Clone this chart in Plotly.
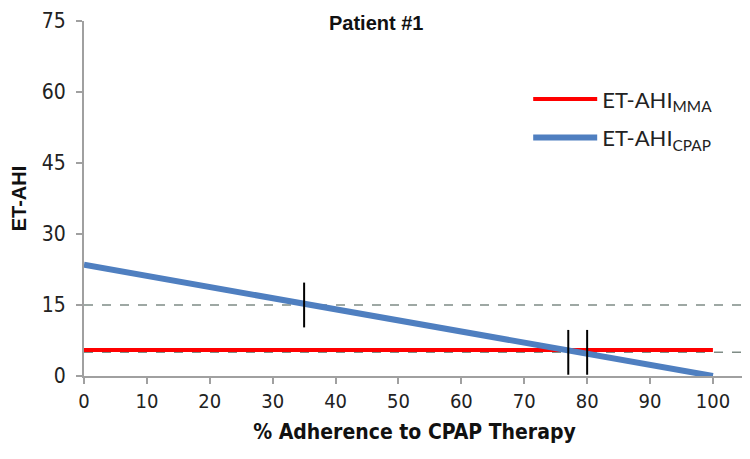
import plotly.graph_objects as go

# adherence (%) and the two ET-AHI lines
adherence = [0, 100]
et_ahi_cpap = [23.5, 0]
et_ahi_mma = [5.5, 5.5]

# reference thresholds (dashed) and the crossing markers
thresholds = [15, 5]
cross_x = [35, 77, 80]
cross_y = [15, 5, 5]

x_ticks = list(range(0, 101, 10))
y_ticks = [0, 15, 30, 45, 60, 75]
x_max = 105.1

narrow = "DejaVu Sans Condensed, Liberation Sans Narrow, Liberation Sans"

fig = go.Figure()

for t in thresholds:
    fig.add_trace(go.Scatter(x=[0, x_max], y=[t, t], mode="lines", showlegend=False,
                             line=dict(color="#7f8c86", width=1.5, dash="dash"),
                             hoverinfo="skip"))

fig.add_trace(go.Scatter(x=adherence, y=et_ahi_mma, mode="lines",
                         name="ET-AHI<sub>MMA</sub>", legendgroup="a",
                         line=dict(color="#ff0000", width=4)))
fig.add_trace(go.Scatter(x=adherence, y=et_ahi_cpap, mode="lines",
                         name="ET-AHI<sub>CPAP</sub>", legendgroup="b",
                         line=dict(color="#4f7fc0", width=6)))

fig.add_trace(go.Scatter(x=cross_x, y=cross_y, mode="markers", showlegend=False,
                         marker=dict(symbol="line-ns", size=32,
                                     line=dict(color="black", width=2))))

# page body adds an 8px offset, so margins are trimmed accordingly
fig.update_layout(
    width=750, height=459,
    margin=dict(l=76, r=13, t=13, b=91),
    plot_bgcolor="white", paper_bgcolor="white",
    legend=dict(x=0.672, y=0.839, xanchor="left", yanchor="top",
                font=dict(family="Lato, Open Sans", size=22, color="#222"),
                tracegroupgap=7, itemwidth=64, bgcolor="rgba(0,0,0,0)"),
    annotations=[dict(text="<b>Patient #1</b>", x=0.442, y=0.994, xref="paper", yref="paper",
                      xanchor="center", yanchor="middle", showarrow=False,
                      font=dict(family="Liberation Sans, Arial", size=20, color="#111"))],
)

fig.update_xaxes(range=[0, x_max], tickvals=x_ticks, showgrid=False, zeroline=False,
                 showline=True, linecolor="#a0a0a0", linewidth=2,
                 ticks="outside", ticklen=6, tickcolor="#a0a0a0", tickwidth=2,
                 tickfont=dict(family=narrow, size=20, color="#222"), automargin=False,
                 ticklabeloverflow="allow",
                 title=dict(text="<b>% Adherence to CPAP Therapy</b>",
                            font=dict(family=narrow, size=21, color="#111"), standoff=12))
fig.update_yaxes(range=[0, 75], tickvals=y_ticks, showgrid=False, zeroline=False,
                 showline=True, linecolor="#a0a0a0", linewidth=2,
                 ticks="outside", ticklen=6, tickcolor="#a0a0a0", tickwidth=2,
                 tickfont=dict(family=narrow, size=21, color="#222"), automargin=False,
                 ticklabelstandoff=6, ticklabeloverflow="allow",
                 title=dict(text="<b>ET-AHI</b>", font=dict(family="Liberation Sans, Arial", size=20, color="#111"),
                            standoff=12))

fig.write_html("out.html")
